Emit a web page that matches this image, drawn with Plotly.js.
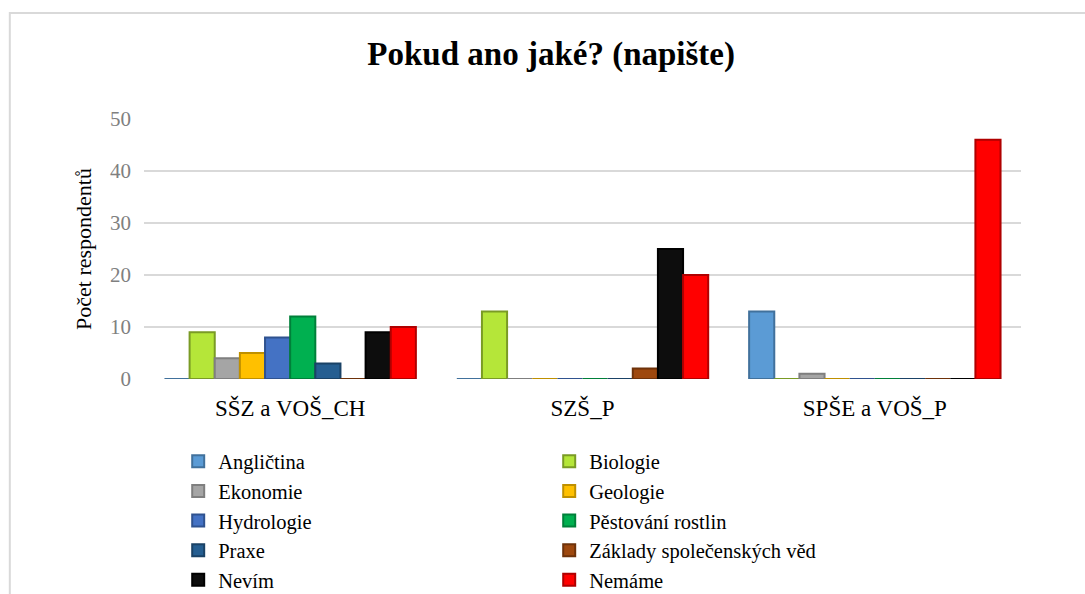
<!DOCTYPE html>
<html>
<head>
<meta charset="utf-8">
<script src="https://cdn.plot.ly/plotly-3.0.1.min.js"></script>
<style>html,body{margin:0;padding:0;background:#fff;}#chart{width:1085px;height:594px;}</style>
</head>
<body>
<div id="chart"></div>
<script>
const categories = ["SŠZ a VOŠ_CH", "SZŠ_P", "SPŠE a VOŠ_P"];
const seriesNames = ["Angličtina", "Biologie", "Ekonomie", "Geologie", "Hydrologie",
  "Pěstování rostlin", "Praxe", "Základy společenských věd", "Nevím", "Nemáme"];
const anglictina = [0, 0, 13];
const biologie = [9, 13, 0];
const ekonomie = [4, 0, 1];
const geologie = [5, 0, 0];
const hydrologie = [8, 0, 0];
const pestovani = [12, 0, 0];
const praxe = [3, 0, 0];
const zaklady = [0, 2, 0];
const nevim = [9, 25, 0];
const nemame = [10, 20, 46];
const seriesValues = [anglictina, biologie, ekonomie, geologie, hydrologie, pestovani, praxe, zaklady, nevim, nemame];
const colors = ["#5B9BD5", "#B5E639", "#A5A5A5", "#FFC000", "#4472C4", "#00B050", "#255E91", "#9E480E", "#0D0D0D", "#FF0000"];
const edgeColors = ["#41719C", "#7A9B25", "#7F7F7F", "#BF9000", "#2F528F", "#00803A", "#1A4266", "#6E320A", "#000000", "#B00000"];
const yTicks = [0, 10, 20, 30, 40, 50];

const serif = '"Liberation Serif", "Times New Roman", serif';
const traces = seriesNames.map((n, i) => ({
  type: "bar", name: n, x: categories, y: seriesValues[i],
  marker: {color: colors[i], line: {color: edgeColors[i], width: 2}},
  hoverinfo: "x+y+name"
}));

const layout = {
  width: 1085, height: 594,
  margin: {l: 144, r: 64, t: 119, b: 215, autoexpand: false},
  paper_bgcolor: "#fff", plot_bgcolor: "#fff",
  font: {family: serif},
  barmode: "group", bargap: 0.14, bargroupgap: 0,
  title: {text: "<b>Pokud ano jaké? (napište)</b>", font: {family: serif, size: 33, color: "#000"},
          x: 0.508, xref: "container", xanchor: "center", y: 0.91, yref: "container", yanchor: "middle"},
  xaxis: {type: "category", tickfont: {family: serif, size: 23, color: "#000"}, showgrid: false,
          showline: false, zeroline: false, ticks: "", ticklabelstandoff: 13, automargin: false},
  yaxis: {range: [0, 50], tickvals: yTicks, ticktext: yTicks.map(String),
          tickfont: {family: serif, size: 21, color: "#808080"},
          gridcolor: "#D9D9D9", gridwidth: 2, zeroline: false, showline: false, ticks: "",
          ticklabelstandoff: 12, automargin: false,
          title: {text: "Počet respondentů", font: {family: serif, size: 22, color: "#000"}, standoff: 12}},
  legend: {orientation: "h", x: 0.039, xanchor: "left", y: -0.24, yanchor: "top",
           font: {family: serif, size: 20.5, color: "#000"}, entrywidth: 326, entrywidthmode: "pixels",
           traceorder: "normal", bgcolor: "rgba(0,0,0,0)"},
  shapes: [{type: "rect", xref: "paper", yref: "paper", x0: -0.153, x1: 1.08, y0: -1.2, y1: 1.408,
            line: {color: "#D9D9D9", width: 2}, fillcolor: "rgba(0,0,0,0)", layer: "below"}],
  showlegend: true
};

Plotly.newPlot("chart", traces, layout, {displayModeBar: false, staticPlot: true});
</script>
</body>
</html>
